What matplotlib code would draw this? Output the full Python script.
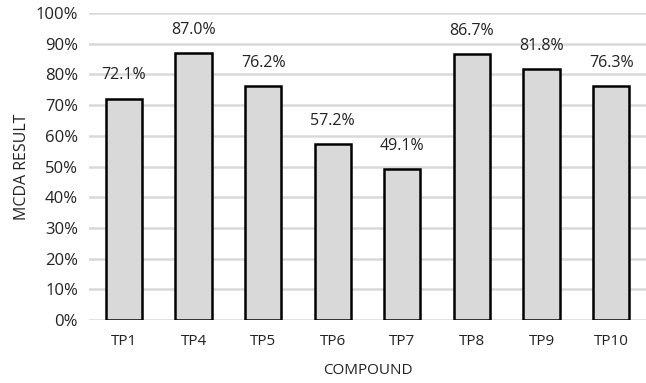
import numpy as np
import matplotlib.pyplot as plt
from matplotlib.ticker import PercentFormatter

compounds = ['TP1', 'TP4', 'TP5', 'TP6', 'TP7', 'TP8', 'TP9', 'TP10']
mcda = [72.1, 87.0, 76.2, 57.2, 49.1, 86.7, 81.8, 76.3]

plt.rcParams['font.family'] = ['Open Sans', 'DejaVu Sans']

fig = plt.figure(figsize=(6.46, 3.83), dpi=100)
ax = fig.add_axes([0.138, 0.164, 0.862, 0.802])

x = np.arange(len(compounds))
ax.bar(x, mcda, width=0.52, color='#d9d9d9', edgecolor='black', linewidth=1.8, zorder=3)

# value labels above bars
for xi, v in zip(x, mcda):
    ax.annotate(f'{v:.1f}%', (xi, v), xytext=(0, 11), textcoords='offset points',
                ha='center', va='bottom', fontsize=11.5, color='#222222')

ax.set_xlim(-0.5, len(compounds) - 0.5)
ax.set_ylim(0, 100)
ax.set_yticks(np.arange(0, 101, 10))
ax.yaxis.set_major_formatter(PercentFormatter(decimals=0))
ax.set_xticks(x)
ax.set_xticklabels(compounds)
ax.grid(axis='y', color='#d9d9d9', linewidth=1.8, zorder=0)
for s in ax.spines.values():
    s.set_visible(False)
ax.tick_params(axis='y', length=0, labelsize=12, pad=8, labelcolor='#222222')
ax.tick_params(axis='x', length=0, labelsize=11, pad=10, labelcolor='#222222')
ax.set_xlabel('COMPOUND', fontsize=11, labelpad=10, color='#222222')
ax.set_ylabel('MCDA RESULT', fontsize=11.5, labelpad=4, color='#222222')

fig.savefig('out.png', dpi=100)
